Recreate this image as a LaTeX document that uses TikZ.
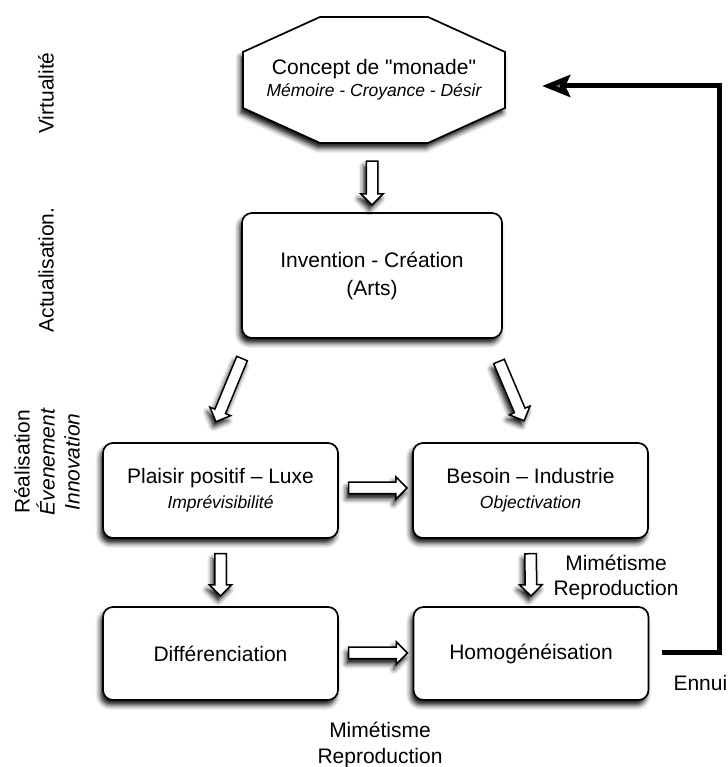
\documentclass[tikz,border=0pt]{standalone}
\usepackage{fontspec}
\setmainfont{Liberation Sans}[Ligatures=TeXOff]
\usetikzlibrary{shapes.arrows,shadows.blur,calc,arrows.meta}
\newcommand\subtxt{\fontsize{17.5}{20}\selectfont\itshape}
\tikzset{
  shad/.style={blur shadow={shadow xshift=-2.5pt, shadow yshift=-5pt, shadow blur radius=5pt, shadow opacity=95}},
  box/.style={draw, line width=1.7pt, rounded corners=10pt, fill=white, minimum width=235pt, minimum height=95pt, align=center, font=\fontsize{21}{25}\selectfont, shad},
  octtext/.style={minimum width=262pt, minimum height=126pt, align=center, font=\fontsize{21}{20}\selectfont},
  octline/.style={draw, line width=1.7pt, fill=white, shad},
  hollow/.style={single arrow, draw, line width=1.5pt, fill=white, inner xsep=0pt, inner ysep=5pt, single arrow head extend=5.5pt, shad},
  lbl/.style={font=\fontsize{21}{25.5}\selectfont, align=center},
  side/.style={font=\fontsize{21}{25}\selectfont, align=center, rotate=90},
  loop/.style={line width=5pt, -{Stealth[length=28pt,width=22pt,inset=5pt]}},
}
\newcommand\hollowarrow[3]{%
  \path let \p1=(#2), \p2=(#3), \n1={atan2(\y2-\y1,\x2-\x1)}, \n2={veclen(\x2-\x1,\y2-\y1)} in
    node[hollow, rotate=\n1, minimum height=\n2] (#1) at ($(#2)!0.5!(#3)$) {};}
\begin{document}
\begin{tikzpicture}[x=1pt,y=1pt]
\useasboundingbox (0,0) rectangle (727,767);
% octagon outline, then its text node
\coordinate (octc) at (374,687);
\path[octline] ($(octc)+(-54,63)$) -- ($(octc)+(54,63)$) -- ($(octc)+(131,28)$) -- ($(octc)+(131,-28)$) -- ($(octc)+(54,-63)$) -- ($(octc)+(-54,-63)$) -- ($(octc)+(-131,-28)$) -- ($(octc)+(-131,28)$) -- cycle;
\node[octtext] (oct) at (octc) {Concept de "monade"\\[2pt]{\subtxt Mémoire - Croyance - Désir}};
% boxes
\node[box, minimum width=260pt, minimum height=125pt, font=\fontsize{21}{28}\selectfont] (inv) at (372,491.5) {Invention - Création\\(Arts)};
\node[box] (plai) at (220.5,276.5) {Plaisir positif – Luxe\\{\subtxt Imprévisibilité}};
\node[box] (bes) at (530.5,276.5) {Besoin – Industrie\\{\subtxt Objectivation}};
\node[box, minimum height=93pt] (diff) at (220.5,113.5) {Différenciation};
\node[box, minimum height=93pt] (hom) at (531,113.5) {Homogénéisation};
% side labels
\node[side] (virt) at (46,674) {Virtualité};
\node[side] (act) at (46,497) {Actualisation.};
\node[side] (real) at (47,305) {Réalisation\\{\itshape Évenement}\\{\itshape Innovation}};
% other labels
\node[lbl] (mimR) at (616,189.5) {Mimétisme\\Reproduction};
\node[lbl] (mimB) at (380,22) {Mimétisme\\Reproduction};
\node[lbl, anchor=west] (ennui) at (670,84) {Ennui};
% arrow end points
\coordinate (a1s) at ($(oct.south)+(-2,-15)$);
\coordinate (a1e) at ($(inv.north)+(0,10)$);
\coordinate (a2s) at ($(inv.south west)+(2,-17)$);
\coordinate (a2e) at ($(plai.north)+(-3.5,23)$);
\coordinate (a3s) at ($(inv.south east)+(-5,-20)$);
\coordinate (a3e) at ($(bes.north)+(-7.5,24)$);
\coordinate (a4s) at ($(plai.east)+(7,2.5)$);
\coordinate (a4e) at ($(bes.west)+(-8,2.5)$);
\coordinate (a5s) at ($(plai.south)+(0,-12)$);
\coordinate (a5e) at ($(diff.north)+(0,13)$);
\coordinate (a6s) at ($(bes.south)+(0,-12)$);
\coordinate (a6e) at ($(hom.north)+(0,13)$);
\coordinate (a7s) at ($(diff.east)+(7,0.5)$);
\coordinate (a7e) at ($(hom.west)+(-8,0.5)$);
\hollowarrow{a1}{a1s}{a1e}
\hollowarrow{a2}{a2s}{a2e}
\hollowarrow{a3}{a3s}{a3e}
\hollowarrow{a4}{a4s}{a4e}
\hollowarrow{a5}{a5s}{a5e}
\hollowarrow{a6}{a6s}{a6e}
\hollowarrow{a7}{a7s}{a7e}
% loop back
\coordinate (c1) at (719,114);
\coordinate (c2) at (719,681);
\draw[loop] ($(hom.east)+(13,0.5)$) -- (c1) -- (c2) -- ($(oct.east)+(37,-6)$);
\end{tikzpicture}
\end{document}
